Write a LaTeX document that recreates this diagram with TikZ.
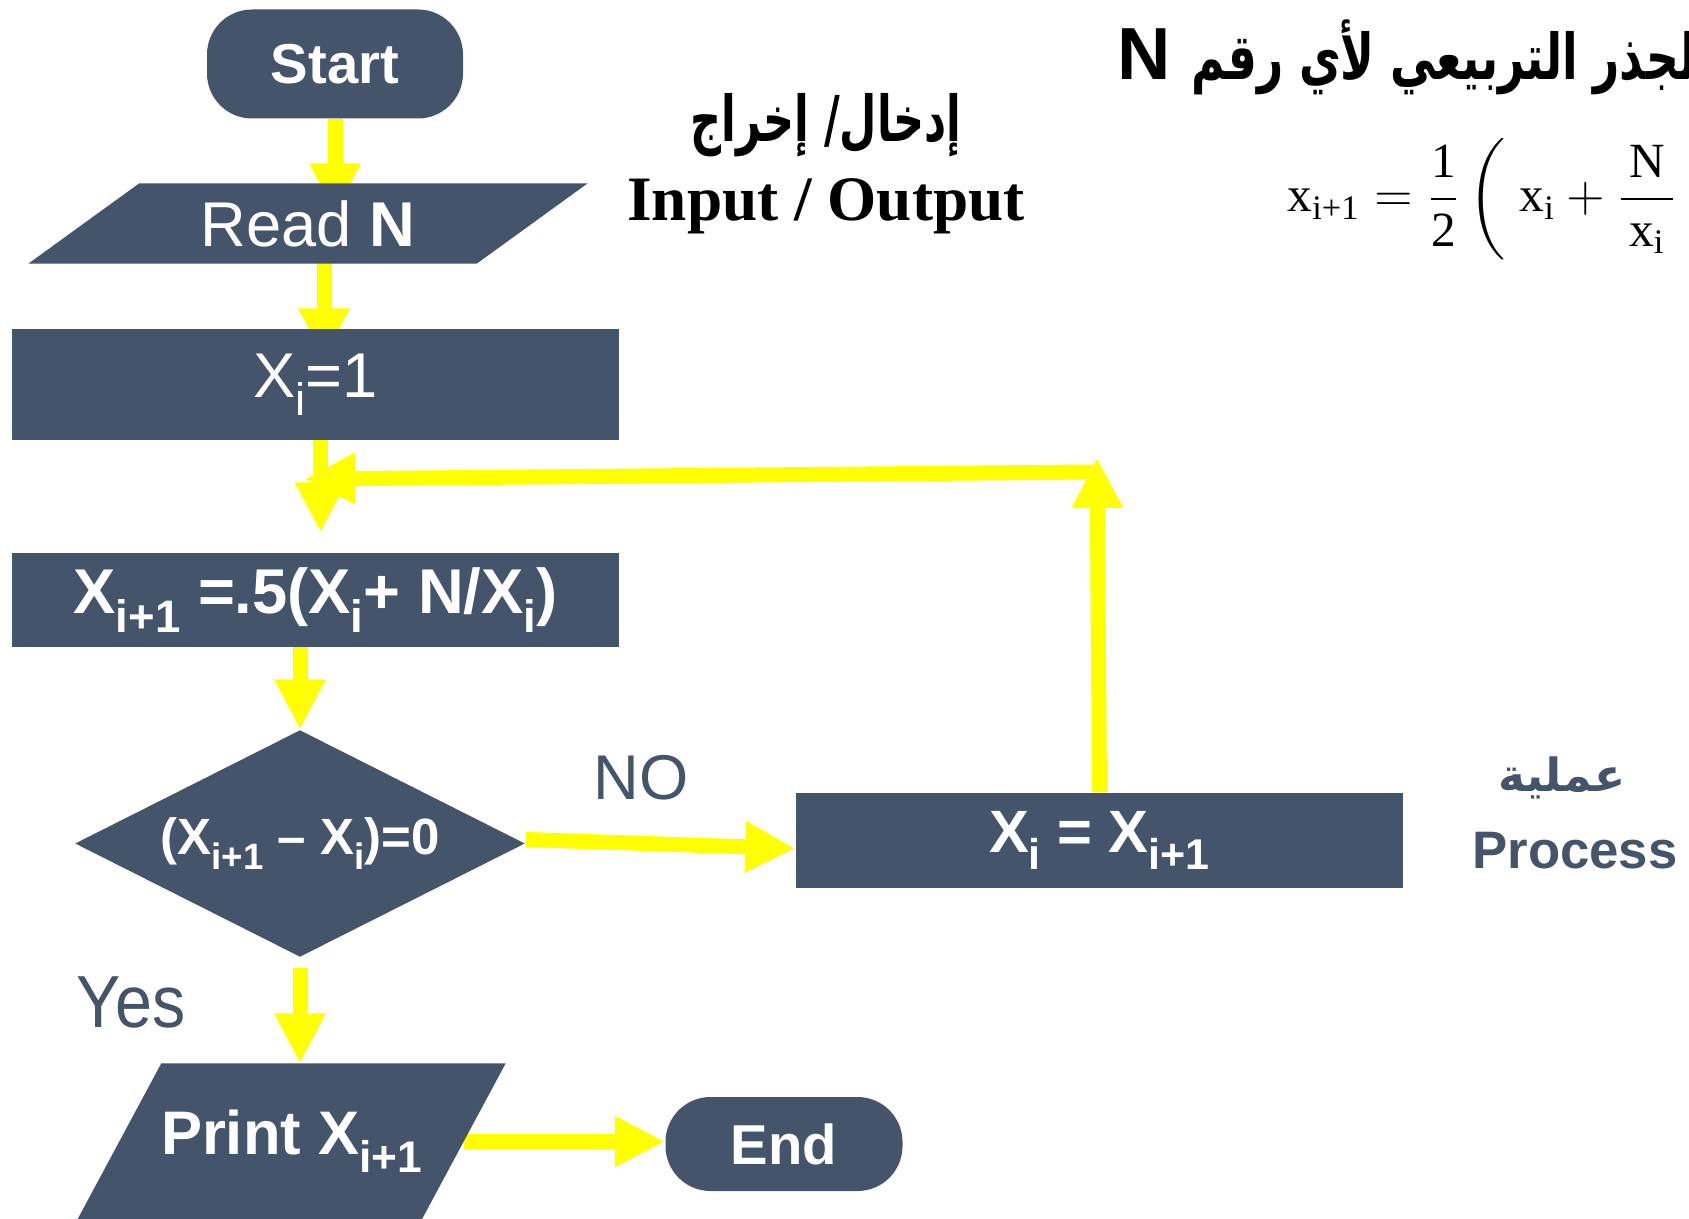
\documentclass[tikz,border=0pt]{standalone}
\usepackage{amsmath}
\usepackage{graphicx}
\usepackage{fontspec}
\setmainfont{Liberation Sans}
\newfontfamily\tnr{Liberation Serif}
\newfontfamily\cond[FakeStretch=0.9]{Liberation Sans}
\newfontfamily\arabicfont[Script=Arabic]{DejaVu Sans}
\newfontfamily\arabicnarrow[Script=Arabic,FakeStretch=0.68]{DejaVu Sans}
\newfontfamily\arabictitle[Script=Arabic,FakeStretch=0.72]{DejaVu Sans}
\TeXXeTstate=1
\usetikzlibrary{shapes.geometric,arrows.meta,backgrounds}
\definecolor{slate}{HTML}{44546A}
\definecolor{flow}{HTML}{FFFF00}
\newcommand\fsz[1]{\fontsize{#1}{#1}\selectfont}
\newcommand\rx[1]{\text{\tnr #1}}
\newcommand\lo[1]{\raisebox{-0.55ex}{\scalebox{0.72}{#1}}}

\begin{document}
\begin{tikzpicture}[
    terminal/.style={fill=slate, text=white, rounded corners=0.45cm, inner sep=0, font=\bfseries\fsz{16}},
    box/.style={fill=slate, text=white, minimum width=6.07cm, inner sep=0},
    io/.style={text=white, inner sep=0},
    test/.style={diamond, aspect=2, fill=slate, text=white, inner sep=0,
        minimum width=4.5cm, minimum height=2.27cm},
    hint/.style={text=slate, inner sep=0},
    go/.style={draw=flow, line width=0.15cm, -{Triangle[width=0.48cm,length=0.5cm]}}]
    \useasboundingbox (0,0) rectangle (16.89,-12.19);
    \clip (0,0) rectangle (16.89,-12.19);
    \node[terminal, minimum width=2.56cm, minimum height=1.09cm] (start) at (3.35,-0.64) {Start};
    \node[io, minimum width=4.47cm, minimum height=0.79cm, font=\fsz{18}] (read) at (3.08,-2.235) {Read \textbf{N}};
    \node[box, minimum height=1.11cm, font=\fsz{18}] (init) at (3.155,-3.845) {X\lo{i}=1};
    \node[box, minimum height=0.94cm, font=\bfseries\fsz{18}] (update) at (3.155,-6.0)
        {X\lo{i+1} =.5(X\lo{i}+ N/X\lo{i})};
    \node[test, font=\bfseries\fsz{14.5}] (check) at (3.0,-8.435) {(X\lo{i+1} – X\lo{i})=0};
    \node[box, minimum height=0.95cm, font=\bfseries\fsz{17}] (swap) at (10.995,-8.405)
        {X\lo{i} = X\lo{i+1}};
    \node[io, minimum width=3.43cm, minimum height=1.55cm, font=\bfseries\fsz{17.5}] (show) at (2.915,-11.415)
        {Print X\lo{i+1}};
    \node[terminal, minimum width=2.37cm, minimum height=0.94cm] (stop) at (7.84,-11.44) {End};
    \node[hint, font=\fsz{18}] (no) at (6.41,-7.78) {NO};
    \node[hint, font=\cond\fsz{21}] (yes) at (1.31,-10.02) {Yes};
    \node[hint, font=\arabicfont\bfseries\fsz{13}] (procar) at (15.62,-7.78) {\beginR عملية\endR};
    \node[hint, font=\bfseries\fsz{15}] (proc) at (15.75,-8.51) {Process};
    \node[font=\arabicnarrow\bfseries\fsz{18}] (ioar) at (8.26,-1.25) {\beginR إدخال/ إخراج\endR};
    \node[font=\tnr\bfseries\fsz{18}] (ioen) at (8.26,-2.06) {Input / Output};
    \node[anchor=west, inner sep=0, font=\bfseries\fsz{21}] (title) at (11.17,-0.57)
        {N {\arabictitle\fsz{18}\beginR الجذر التربيعي لأي رقم\endR}};
    \node[anchor=west, inner sep=0, font=\fsz{14}] (formula) at (12.87,-1.99)
        {$\displaystyle \rx{x}_{\rx{i+1}} = \frac{\rx{1}}{\rx{2}}\left(\;\rx{x}_{\rx{i}} + \frac{\,\rx{N}\,}{\rx{x}_{\rx{i}}}\;\right)$};
    \coordinate (turn) at (10.97,-4.58);
    \coordinate (back) at (10.93,-4.72);
    \coordinate (join) at (3.05,-4.79);
    \begin{scope}[on background layer]
        \draw[go, shorten >=-0.3cm] (start) -- (start |- read.north);
        \draw[go, shorten >=-0.3cm] ([xshift=0.16cm]read.center) -- ([xshift=0.16cm]read.center |- init.north);
        \draw[go, shorten >=0.2cm] ([xshift=0.05cm]init.center) -- ([xshift=0.05cm]init.center |- update.north);
        \draw[go] (check |- update) -- (check.north);
        \draw[go] ([yshift=0.04cm]check.east) -- ([yshift=-0.08cm]swap.west);
        \draw[go, shorten <=0.1cm] (check.south) -- (check.south |- show.north);
        \draw[go] (show.east) -- (show.east -| stop.west);
        \draw[go] (swap.north) -- (turn);
        \draw[go] (back) -- (join);
        \fill[slate] ([xshift=0.555cm]read.north west) -- ([xshift=0.555cm]read.north east)
            -- ([xshift=-0.555cm]read.south east) -- ([xshift=-0.555cm]read.south west) -- cycle;
        \fill[slate] ([xshift=0.42cm]show.north west) -- ([xshift=0.42cm]show.north east)
            -- ([xshift=-0.42cm]show.south east) -- ([xshift=-0.42cm]show.south west) -- cycle;
    \end{scope}
\end{tikzpicture}
\end{document}
